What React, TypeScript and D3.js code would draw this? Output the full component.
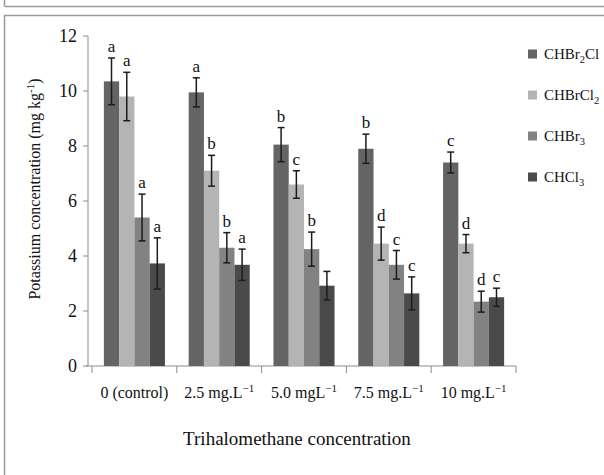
import React from "react";
import * as d3 from "d3";

// groups along the x axis: [label, superscript]
const categories = ["0 (control)", "2.5 mg.L", "5.0 mgL", "7.5 mg.L", "10 mg.L"];
const categorySup = ["", "−1", "−1", "−1", "−1"];

const series = ["CHBr2Cl", "CHBrCl2", "CHBr3", "CHCl3"];
const colors = ["#646464", "#b4b4b4", "#828282", "#4a4a4a"];

// mean values per series (one entry per category)
const chbr2cl = [10.35, 9.95, 8.05, 7.9, 7.4];
const chbrcl2 = [9.8, 7.1, 6.6, 4.45, 4.45];
const chbr3 = [5.4, 4.3, 4.25, 3.68, 2.34];
const chcl3 = [3.73, 3.68, 2.92, 2.64, 2.5];

// error (+/-)
const errChbr2cl = [0.85, 0.53, 0.62, 0.53, 0.38];
const errChbrcl2 = [0.88, 0.56, 0.5, 0.6, 0.33];
const errChbr3 = [0.85, 0.55, 0.62, 0.52, 0.38];
const errChcl3 = [0.93, 0.57, 0.52, 0.6, 0.33];

// significance letters
const lettersChbr2cl = ["a", "a", "b", "b", "c"];
const lettersChbrcl2 = ["a", "b", "c", "d", "d"];
const lettersChbr3 = ["a", "b", "b", "c", "d"];
const lettersChcl3 = ["a", "a", "", "c", "c"];

const yTicks = [0, 2, 4, 6, 8, 10, 12];

const FONT = "'Liberation Serif', 'Times New Roman', serif";

// write chemical formula with digits as subscripts
function formula(sel: any, text: string) {
  const parts = text.match(/\d+|\D+/g) || [];
  parts.forEach((p: string) => {
    if (/\d/.test(p)) {
      sel.append("tspan").attr("font-size", "0.7em").attr("dy", 4).text(p);
    } else {
      const t = sel.append("tspan").text(p);
      if (sel.selectAll("tspan").size() > 1) t.attr("dy", -4);
    }
  });
}

function drawChart(svgRef: any) {
  const svg = d3.select(svgRef.current);
  svg.selectAll("*").remove();

  const values = [chbr2cl, chbrcl2, chbr3, chcl3];
  const errs = [errChbr2cl, errChbrcl2, errChbr3, errChcl3];
  const letters = [lettersChbr2cl, lettersChbrcl2, lettersChbr3, lettersChcl3];

  const y = d3.scaleLinear().domain([0, 12]).range([366, 36]);
  const x0 = d3
    .scaleBand()
    .domain(categories)
    .range([92, 516])
    .paddingInner(0.28)
    .paddingOuter(0.14);
  const x1 = d3.scaleBand().domain(series).range([0, x0.bandwidth()]);

  // frame
  svg.append("line").attr("x1", 4.5).attr("x2", 604).attr("y1", 6.5).attr("y2", 6.5)
    .attr("stroke", "#9a9a9a").attr("stroke-width", 1.5);
  svg.append("line").attr("x1", 4.5).attr("x2", 4.5).attr("y1", 0).attr("y2", 6.5)
    .attr("stroke", "#9a9a9a").attr("stroke-width", 1.5);
  svg.append("path").attr("d", "M4.5,475V15.5H604")
    .attr("fill", "none").attr("stroke", "#9a9a9a").attr("stroke-width", 1.5);

  // y axis
  const yAxis = svg.append("g");
  yAxis.append("line").attr("x1", 88).attr("x2", 88).attr("y1", y(12)).attr("y2", y(0))
    .attr("stroke", "#8c8c8c");
  yTicks.forEach((t) => {
    yAxis.append("line").attr("x1", 83).attr("x2", 88).attr("y1", y(t)).attr("y2", y(t))
      .attr("stroke", "#8c8c8c");
    yAxis.append("text").attr("x", 77).attr("y", y(t) + 6).attr("text-anchor", "end")
      .attr("font-family", FONT).attr("font-size", 18).attr("fill", "#111").text(t);
  });

  // x axis
  const xAxis = svg.append("g");
  xAxis.append("line").attr("x1", 86).attr("x2", 516).attr("y1", y(0)).attr("y2", y(0))
    .attr("stroke", "#8c8c8c");
  const bounds = categories.map((c) => (x0(c) as number) - (x0.step() * 0.28) / 2);
  bounds.push(516);
  bounds.forEach((b) => {
    xAxis.append("line").attr("x1", b).attr("x2", b).attr("y1", y(0)).attr("y2", y(0) + 7)
      .attr("stroke", "#8c8c8c");
  });
  categories.forEach((c, i) => {
    const t = xAxis.append("text")
      .attr("x", (x0(c) as number) + x0.bandwidth() / 2)
      .attr("y", 398)
      .attr("text-anchor", "middle")
      .attr("font-family", FONT).attr("font-size", 16).attr("fill", "#111");
    t.append("tspan").text(c);
    if (categorySup[i]) {
      t.append("tspan").attr("font-size", 11).attr("dy", -6).text(categorySup[i]);
    }
  });

  // bars
  series.forEach((s, si) => {
    const g = svg.append("g");
    categories.forEach((c, ci) => {
      const v = values[si][ci];
      const e = errs[si][ci];
      const bx = (x0(c) as number) + (x1(s) as number);
      const cx = bx + x1.bandwidth() / 2;
      g.append("rect").attr("x", bx).attr("y", y(v)).attr("width", x1.bandwidth())
        .attr("height", y(0) - y(v)).attr("fill", colors[si]);
      g.append("line").attr("x1", cx).attr("x2", cx).attr("y1", y(v + e)).attr("y2", y(v - e))
        .attr("stroke", "#1c1c1c").attr("stroke-width", 1.5);
      [v + e, v - e].forEach((ev) => {
        g.append("line").attr("x1", cx - 3.5).attr("x2", cx + 3.5).attr("y1", y(ev)).attr("y2", y(ev))
          .attr("stroke", "#1c1c1c").attr("stroke-width", 1.5);
      });
      if (letters[si][ci]) {
        g.append("text").attr("x", cx).attr("y", y(v + e) - 6).attr("text-anchor", "middle")
          .attr("font-family", FONT).attr("font-size", 17).attr("fill", "#111")
          .text(letters[si][ci]);
      }
    });
  });

  // legend
  series.forEach((s, i) => {
    const ly = 54 + i * 41;
    svg.append("rect").attr("x", 528).attr("y", ly - 4.5).attr("width", 9).attr("height", 9)
      .attr("fill", colors[i]);
    const t = svg.append("text").attr("x", 544).attr("y", ly + 5)
      .attr("font-family", FONT).attr("font-size", 15).attr("fill", "#111");
    formula(t, s);
  });

  // axis titles
  const yt = svg.append("text")
    .attr("transform", "translate(40,189) rotate(-90)")
    .attr("text-anchor", "middle")
    .attr("font-family", FONT).attr("font-size", 16).attr("fill", "#111");
  yt.append("tspan").text("Potassium concentration (mg kg");
  yt.append("tspan").attr("font-size", 11).attr("dy", -6).text("-1");
  yt.append("tspan").attr("dy", 6).text(")");

  svg.append("text").attr("x", 297).attr("y", 445).attr("text-anchor", "middle")
    .attr("font-family", FONT).attr("font-size", 19).attr("fill", "#111")
    .text("Trihalomethane concentration");
}

const App = () => {
  const svg = React.useRef(null);

  React.useEffect(() => {
    drawChart(svg);
  }, [svg]);

  return (
    <svg
      ref={svg}
      width={604}
      height={475}
      style={{ position: "absolute", left: 0, top: 0, background: "#fff" }}
    />
  );
};

export default App;
